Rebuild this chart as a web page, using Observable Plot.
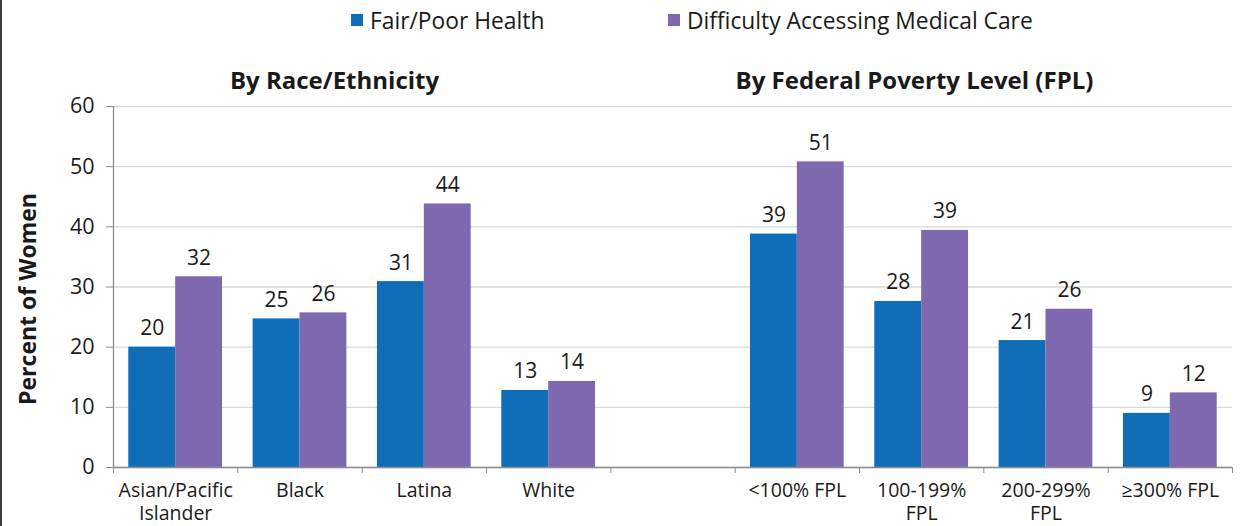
<!DOCTYPE html>
<html>
<head>
<meta charset="utf-8">
<script src="https://cdn.jsdelivr.net/npm/d3@7"></script>
<script src="https://cdn.jsdelivr.net/npm/@observablehq/plot@0.6"></script>
<style>
  html, body { margin: 0; padding: 0; background: #fff; }
  body { position: relative; width: 1241px; height: 526px; overflow: hidden; font-family: "Open Sans", sans-serif; color: #1a1a1a; }
  #edge { position: absolute; left: 0; top: 0; width: 2px; height: 526px; background: #3c3c3c; }
  #legend { position: relative; height: 40px; }
  .item { position: absolute; top: 0; height: 40px; display: flex; align-items: center; font-size: 22.8px; white-space: nowrap; }
  .sw { width: 12px; height: 12px; margin-right: 7px; }
  .title { position: absolute; top: 63px; font-weight: bold; font-size: 24px; white-space: nowrap; transform: translateX(-50%); }
</style>
</head>
<body>
<div id="edge"></div>
<div id="legend"></div>
<div id="chart"></div>
<script>
// ---- data ----
const categories = ["Asian/Pacific\nIslander", "Black", "Latina", "White", "", "<100% FPL", "100-199%\nFPL", "200-299%\nFPL", "≥300% FPL"];
const fairPoorHealth = [20.0, 24.7, 30.9, 12.8, null, 38.8, 27.6, 21.1, 9.0];
const difficultyAccessing = [31.7, 25.7, 43.8, 14.3, null, 50.8, 39.4, 26.3, 12.4];
const seriesNames = ["Fair/Poor Health", "Difficulty Accessing Medical Care"];
const seriesColors = ["#106EB8", "#7E68AF"];
const yTicks = [0, 10, 20, 30, 40, 50, 60];
const groupTitles = ["By Race/Ethnicity", "By Federal Poverty Level (FPL)"];

// ---- layout constants (style) ----
const GAP = 0.246;            // gap between bar clusters, as fraction of category width
const W = 1241, H = 486;
const M = {top: 66, right: 9, bottom: 59, left: 113};

// ---- table ----
const seriesValues = [fairPoorHealth, difficultyAccessing];
const bars = [];
categories.forEach((c, i) => {
  seriesValues.forEach((vals, s) => {
    const v = vals[i];
    if (v == null) return;
    const w = (1 - GAP) / 2;
    bars.push({cat: c, series: seriesNames[s], value: v,
      x1: i + GAP / 2 + s * w, x2: i + GAP / 2 + (s + 1) * w});
  });
});
const catLabels = categories.map((c, i) => ({label: c, x: i + 0.5})).filter(d => d.label);
const boundaries = d3.range(categories.length + 1);

const plot = Plot.plot({
  width: W, height: H,
  marginTop: M.top, marginRight: M.right, marginBottom: M.bottom, marginLeft: M.left,
  style: {fontFamily: "'Open Sans', sans-serif", background: "white", color: "#1a1a1a"},
  x: {domain: [0, categories.length], axis: null},
  y: {domain: [0, 60], axis: null},
  color: {domain: seriesNames, range: seriesColors},
  marks: [
    Plot.gridY(yTicks, {stroke: "#d9d9d9", strokeOpacity: 1, strokeWidth: 1.3}),
    Plot.rectY(bars, {x1: "x1", x2: "x2", y: "value", fill: "series"}),
    Plot.text(bars, {x: d => (d.x1 + d.x2) / 2, y: "value", text: d => d3.format(".0f")(d.value),
      lineAnchor: "bottom", dy: -12, fontSize: 21, fill: "#1a1a1a"}),
    Plot.ruleX([0], {stroke: "#8c8c8c", strokeWidth: 1.3}),
    Plot.ruleY([0], {stroke: "#8c8c8c", strokeWidth: 1.3}),
    Plot.axisY({ticks: yTicks, tickSize: 7, tickPadding: 12, fontSize: 21.5, label: null, stroke: "#8c8c8c", fill: "#1a1a1a"}),
    Plot.axisX({ticks: boundaries, tickSize: 6, tickFormat: () => "", label: null, stroke: "#8c8c8c"}),
    Plot.text(catLabels, {x: "x", y: 0, text: "label", lineAnchor: "top", dy: 14, fontSize: 19.5, lineHeight: 1.15, fill: "#1a1a1a"}),
    Plot.text(["Percent of Women"], {frameAnchor: "left", textAnchor: "middle", rotate: -90, dx: -85, dy: 12, fontSize: 23, fontWeight: "bold", fill: "#1a1a1a"})
  ]
});
document.getElementById("chart").appendChild(plot);

// ---- legend ----
const legend = document.getElementById("legend");
const legendLeft = [351, 668];
seriesNames.forEach((name, s) => {
  const it = document.createElement("div");
  it.className = "item";
  it.style.left = legendLeft[s] + "px";
  it.innerHTML = `<span class="sw" style="background:${seriesColors[s]}"></span><span></span>`;
  it.lastChild.textContent = name;
  legend.appendChild(it);
});

// ---- group titles ----
const titleCenters = [334.5, 914.5];
groupTitles.forEach((t, k) => {
  const el = document.createElement("div");
  el.className = "title";
  el.style.left = titleCenters[k] + "px";
  el.textContent = t;
  document.body.appendChild(el);
});
</script>
</body>
</html>
